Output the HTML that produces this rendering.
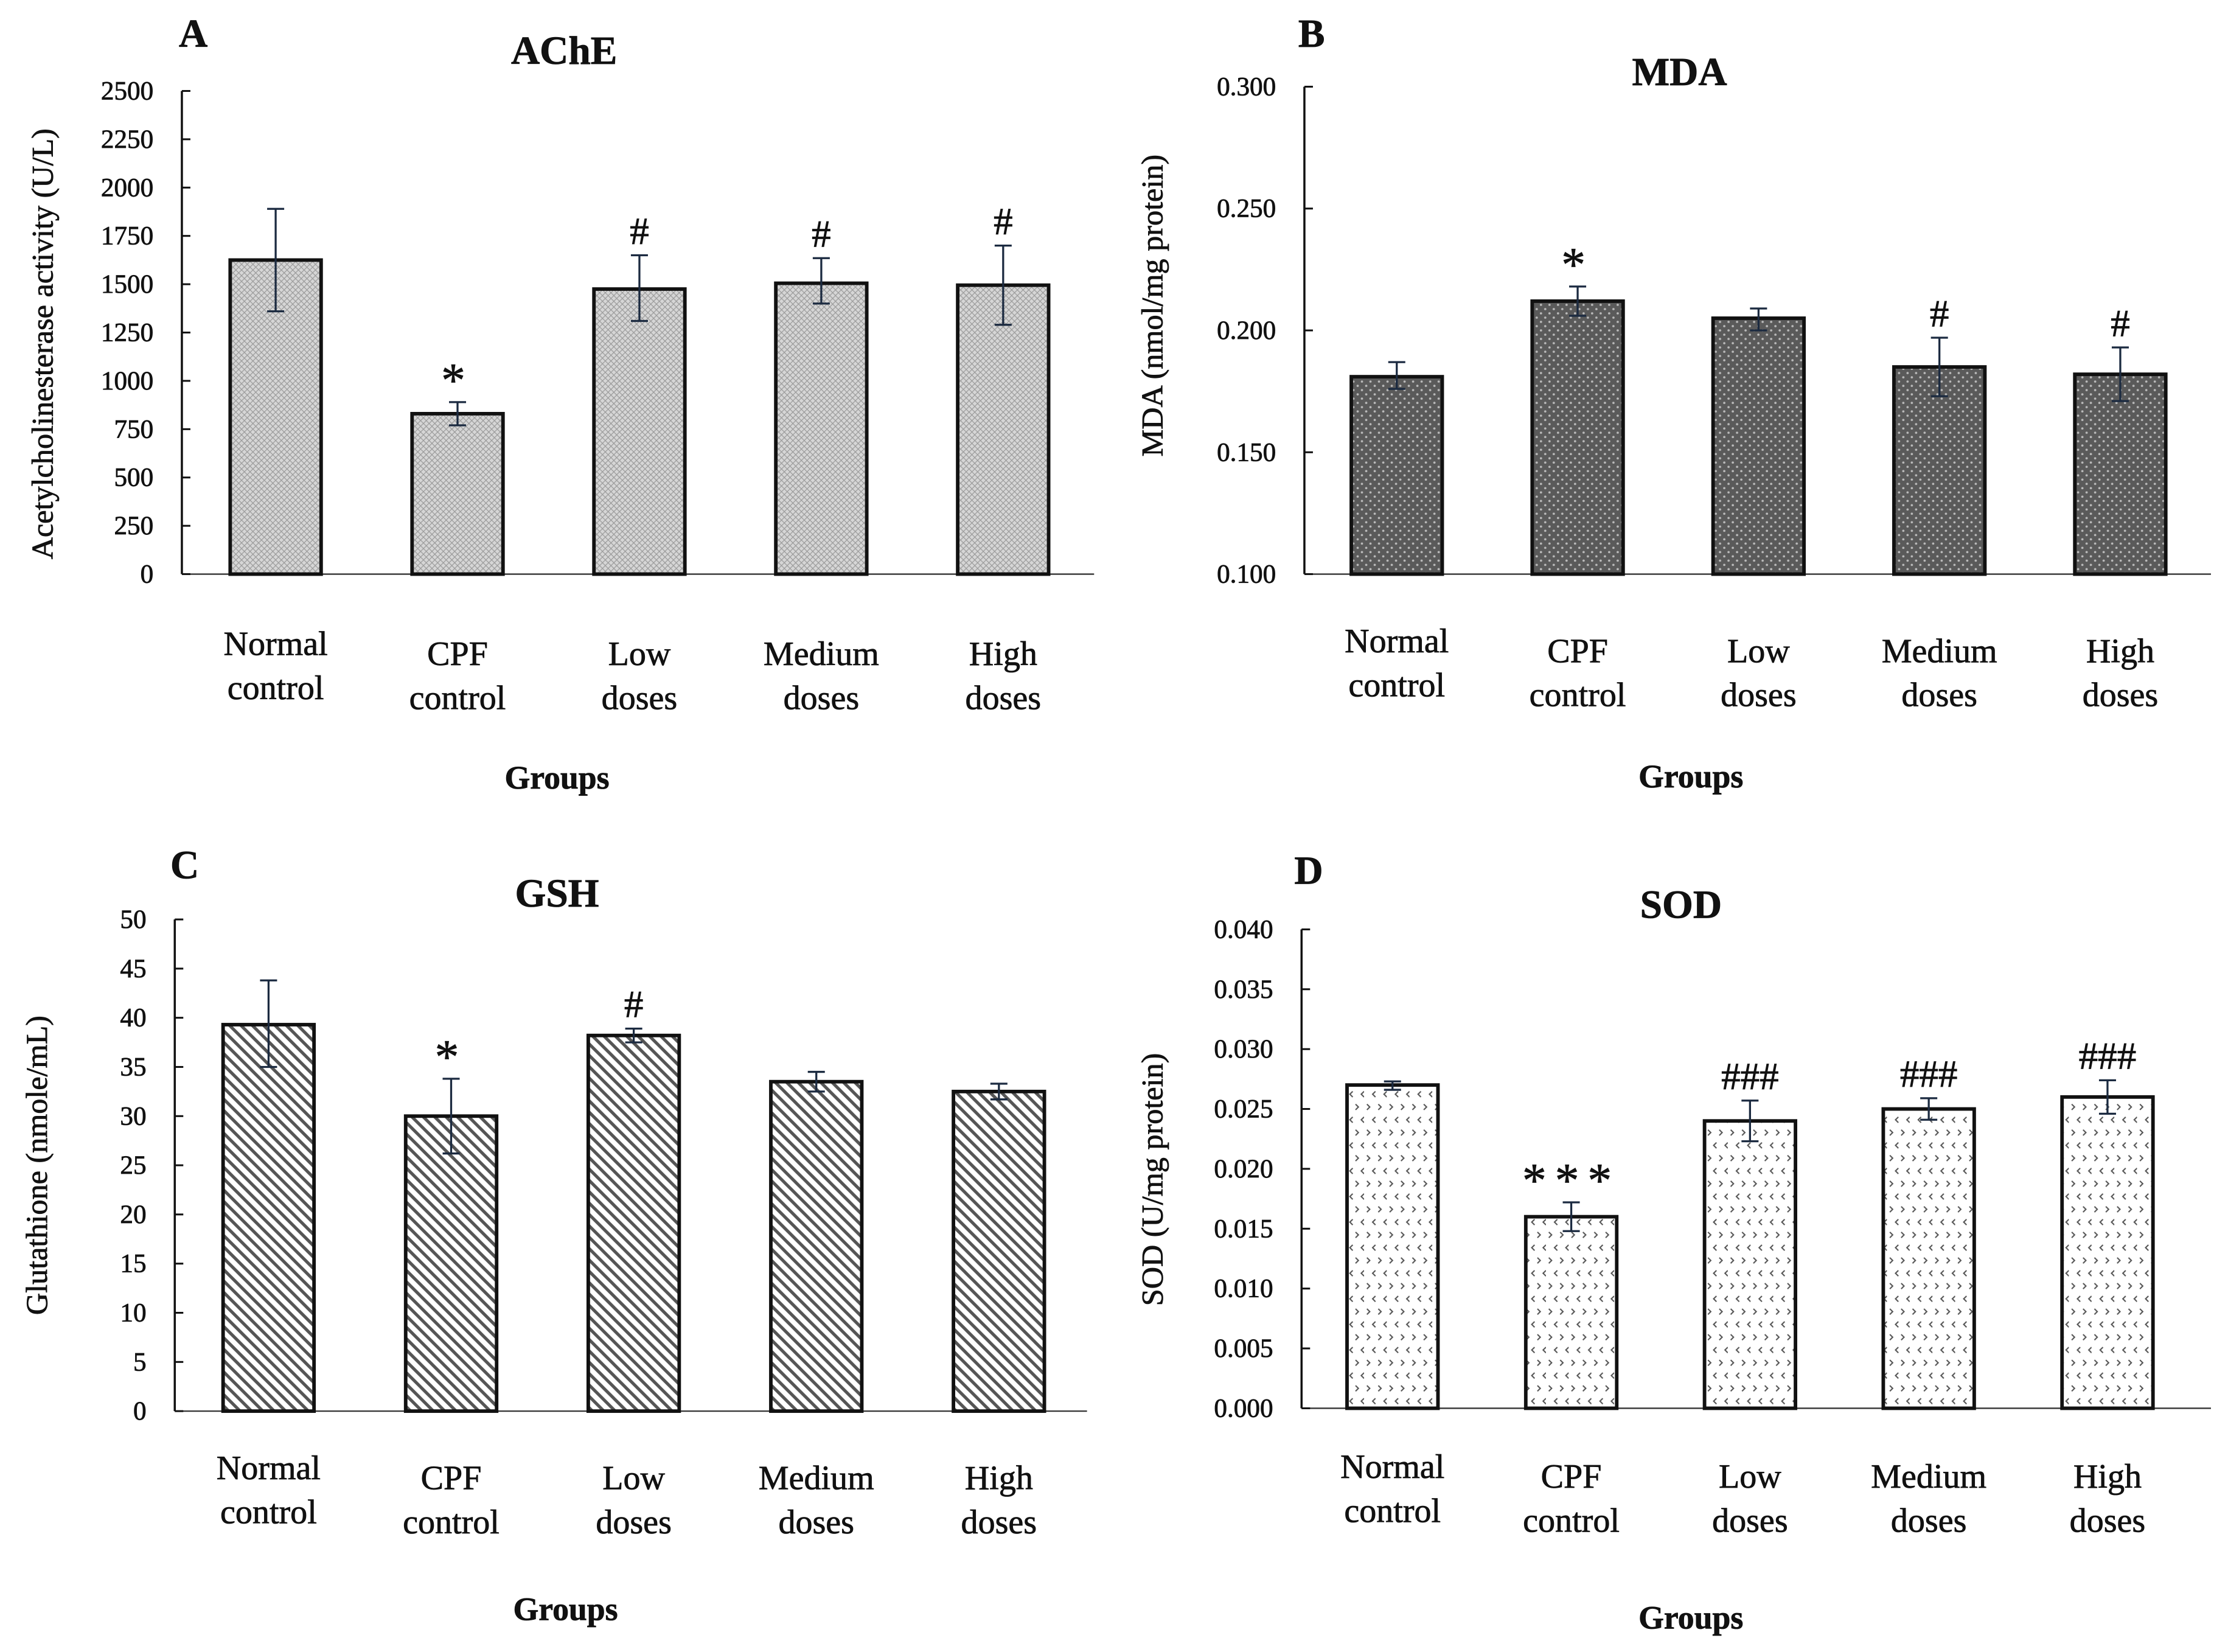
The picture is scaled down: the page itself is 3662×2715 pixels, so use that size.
<!DOCTYPE html>
<html><head><meta charset="utf-8">
<style>
html,body{margin:0;padding:0;background:#fff}
svg{display:block}
text{font-family:"Liberation Serif",serif;fill:#111;stroke:#111;stroke-width:0.35}
</style></head>
<body>
<svg id="fig" width="3662" height="2715" viewBox="0 0 1568 1162.5" xmlns="http://www.w3.org/2000/svg">
<defs>
<pattern id="pA" width="4" height="4" patternUnits="userSpaceOnUse"><rect width="4" height="4" fill="#d6d6d6"/><path d="M0 0L4 4M4 0L0 4" stroke="#999" stroke-width="0.5"/></pattern>
<pattern id="pB" width="6" height="6" patternUnits="userSpaceOnUse"><rect width="6" height="6" fill="#5a5a5a"/><circle cx="1.5" cy="1.5" r="0.8" fill="#bbb"/><circle cx="4.5" cy="4.5" r="0.8" fill="#bbb"/></pattern>
<pattern id="pC" width="8" height="8" patternUnits="userSpaceOnUse"><rect width="8" height="8" fill="#fff"/><path d="M-2 -2L10 10M-2 6L2 10M6 -2L10 2" stroke="#555" stroke-width="2.2"/></pattern>
<pattern id="pD" width="16" height="18" patternUnits="userSpaceOnUse"><rect width="16" height="18" fill="#fff"/><path d="M2 3L4 5L2 7M10 3L12 5L10 7" stroke="#555" stroke-width="0.9" fill="none"/><path d="M8 12L6 14L8 16M16 12L14 14L16 16" stroke="#555" stroke-width="0.9" fill="none"/></pattern>
</defs>
<g id="root"></g>
</svg>
<script>
const categories = [["Normal","control"],["CPF","control"],["Low","doses"],["Medium","doses"],["High","doses"]];
const achValues = [1625, 830, 1475, 1505, 1495];
const achErrHi = [1890, 890, 1650, 1635, 1700];
const achErrLo = [1360, 770, 1310, 1400, 1290];
const achMarks = ["", "*", "#", "#", "#"];
const achTicks = ["0","250","500","750","1000","1250","1500","1750","2000","2250","2500"];
const mdaValues = [0.181, 0.212, 0.205, 0.185, 0.182];
const mdaErrHi = [0.187, 0.218, 0.209, 0.197, 0.193];
const mdaErrLo = [0.176, 0.206, 0.200, 0.173, 0.171];
const mdaMarks = ["", "*", "", "#", "#"];
const mdaTicks = ["0.100","0.150","0.200","0.250","0.300"];
const gshValues = [39.3, 30.0, 38.2, 33.5, 32.5];
const gshErrHi = [43.8, 33.8, 38.9, 34.5, 33.3];
const gshErrLo = [35.0, 26.2, 37.5, 32.5, 31.7];
const gshMarks = ["", "*", "#", "", ""];
const gshTicks = ["0","5","10","15","20","25","30","35","40","45","50"];
const sodValues = [0.027, 0.016, 0.024, 0.025, 0.026];
const sodErrHi = [0.0273, 0.0172, 0.0257, 0.0259, 0.0274];
const sodErrLo = [0.0266, 0.0148, 0.0223, 0.0241, 0.0246];
const sodMarks = ["", "***", "###", "###", "###"];
const sodTicks = ["0.000","0.005","0.010","0.015","0.020","0.025","0.030","0.035","0.040"];

const NS="http://www.w3.org/2000/svg";
const root=document.getElementById('root');
function mk(tag,attrs,parent,txt){const e=document.createElementNS(NS,tag);for(const k in attrs)e.setAttribute(k,attrs[k]);if(txt!==undefined)e.textContent=txt;(parent||root).appendChild(e);return e;}

function panel(cfg){
  const g=mk('g',{});
  
  
  const ticks=cfg.ticks.map(Number);
  const ymin=ticks[0], ymax=ticks[ticks.length-1];
  const yS=v=>cfg.y0-(v-ymin)/(ymax-ymin)*(cfg.y0-cfg.yTop);
  const xS=i=>cfg.x0+i*cfg.step;
  const ax=mk('line',{x1:cfg.ax,y1:cfg.yTop,x2:cfg.ax,y2:cfg.y0,stroke:'#111','stroke-width':1.5},g);
  
  
  const bx=mk('line',{x1:cfg.ax,y1:cfg.y0,x2:cfg.axEnd,y2:cfg.y0,stroke:'#333','stroke-width':1},g);
  
  
  cfg.ticks.forEach((t,i)=>{
    const y=yS(Number(t));
    mk('line',{x1:cfg.ax,y1:y,x2:cfg.ax+6,y2:y,stroke:'#111','stroke-width':1.3},g);
    const tl=mk('text',{x:cfg.ax-20,y:y+6,'text-anchor':'end','font-size':18.5},g,t);
    
    
  });
  cfg.values.forEach((v,i)=>{
    const cx=xS(i), w=64;
    const r=mk('rect',{x:cx-w/2,y:yS(v),width:w,height:cfg.y0-yS(v),fill:'url(#'+cfg.pat+')',stroke:'#111','stroke-width':2.5},g);
    
    
    const hi=yS(cfg.hi[i]), lo=yS(cfg.lo[i]);
    const eb=mk('path',{d:`M${cx} ${hi}V${lo}M${cx-6} ${hi}H${cx+6}M${cx-6} ${lo}H${cx+6}`,stroke:'#1b2a40','stroke-width':1.4,fill:'none'},g);
    
    
    if(cfg.marks[i]){
      const isStar=cfg.marks[i].includes('*');
      const m=mk('text',{x:cx,y:hi-(isStar?4:8),'text-anchor':'middle','font-size':isStar?34:27,'letter-spacing':isStar?6:0,'stroke-width':isStar?1:0.6},g,cfg.marks[i]);
      
      
    }
    const c=categories[i];
    const off=i===0?0:7;
    const l1=mk('text',{x:cx,y:cfg.catY+off,'text-anchor':'middle','font-size':24},g,c[0]);
    
    
    const l2=mk('text',{x:cx,y:cfg.catY+off+31,'text-anchor':'middle','font-size':24},g,c[1]);
    
    
  });
  const tt=mk('text',{x:cfg.titleX,y:cfg.titleY,'text-anchor':'middle','font-size':28,'font-weight':'bold'},g,cfg.title);
  
  
  const lt=mk('text',{x:cfg.letX,y:cfg.letY,'text-anchor':'middle','font-size':28,'font-weight':'bold'},g,cfg.letter);
  
  
  const xt=mk('text',{x:cfg.grpX,y:cfg.grpY,'text-anchor':'middle','font-size':23,'font-weight':'bold'},g,'Groups');
  
  
  const yt=mk('text',{x:0,y:0,'text-anchor':'middle','font-size':21.5,transform:`translate(${cfg.ytX},${cfg.ytY}) rotate(-90)`},g,cfg.ytitle);
  
  
}

panel({key:'ache',letter:'A',title:'AChE',ytitle:'Acetylcholinesterase activity (U/L)',pat:'pA',ticks:achTicks,values:achValues,hi:achErrHi,lo:achErrLo,marks:achMarks,
  ax:128,axEnd:770,yTop:64,y0:404,x0:194,step:128,catY:461,titleX:397,titleY:45,letX:136,letY:33,grpX:392,grpY:555,ytX:37,ytY:242});
panel({key:'mda',letter:'B',title:'MDA',ytitle:'MDA (nmol/mg protein)',pat:'pB',ticks:mdaTicks,values:mdaValues,hi:mdaErrHi,lo:mdaErrLo,marks:mdaMarks,
  ax:918,axEnd:1556,yTop:61,y0:404,x0:983,step:127.3,catY:459,titleX:1182,titleY:60,letX:923,letY:33,grpX:1190,grpY:554,ytX:818,ytY:215});
panel({key:'gsh',letter:'C',title:'GSH',ytitle:'Glutathione (nmole/mL)',pat:'pC',ticks:gshTicks,values:gshValues,hi:gshErrHi,lo:gshErrLo,marks:gshMarks,
  ax:123,axEnd:765,yTop:647,y0:993,x0:189,step:128.5,catY:1041,titleX:392,titleY:638,letX:130,letY:618,grpX:398,grpY:1140,ytX:33,ytY:820});
panel({key:'sod',letter:'D',title:'SOD',ytitle:'SOD (U/mg protein)',pat:'pD',ticks:sodTicks,values:sodValues,hi:sodErrHi,lo:sodErrLo,marks:sodMarks,
  ax:916,axEnd:1556,yTop:654,y0:991,x0:980,step:125.8,catY:1040,titleX:1183,titleY:646,letX:921,letY:622,grpX:1190,grpY:1146,ytX:818,ytY:830});
</script>
</body></html>
